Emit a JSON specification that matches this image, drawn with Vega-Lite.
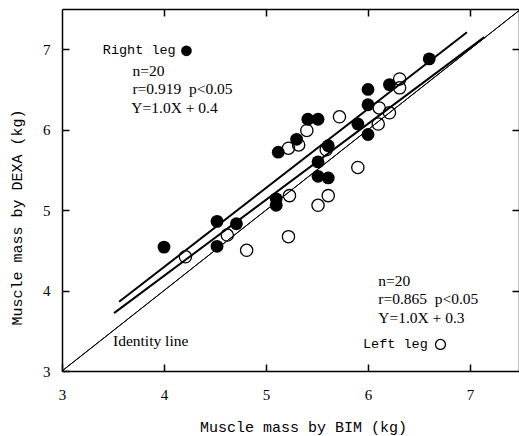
{
  "$schema": "https://vega.github.io/schema/vega-lite/v6.json",
  "autosize": {"type": "none"},
  "width": 457,
  "height": 362,
  "padding": {"left": 62, "top": 9, "right": 0, "bottom": 65},
  "background": "white",
  "config": {
    "view": {"stroke": null},
    "axis": {
      "domainColor": "black",
      "domainWidth": 1.5,
      "tickColor": "black",
      "tickWidth": 1.5,
      "tickSize": -7,
      "grid": false,
      "labelFlush": false,
      "labelOverlap": false,
      "labelFont": "Liberation Serif",
      "labelFontSize": 15,
      "labelColor": "black",
      "titleFont": "Liberation Mono",
      "titleFontSize": 15,
      "titleFontWeight": "normal",
      "titleColor": "black"
    }
  },
  "datasets": {
    "pts": [
      {"leg": "Left", "bim": 4.21, "dexa": 4.42},
      {"leg": "Left", "bim": 4.62, "dexa": 4.69},
      {"leg": "Left", "bim": 4.81, "dexa": 4.50},
      {"leg": "Left", "bim": 5.22, "dexa": 5.77},
      {"leg": "Left", "bim": 5.32, "dexa": 5.81},
      {"leg": "Left", "bim": 5.40, "dexa": 5.99},
      {"leg": "Left", "bim": 5.72, "dexa": 6.16},
      {"leg": "Left", "bim": 5.59, "dexa": 5.75},
      {"leg": "Left", "bim": 5.90, "dexa": 5.53},
      {"leg": "Left", "bim": 5.23, "dexa": 5.18},
      {"leg": "Left", "bim": 5.51, "dexa": 5.06},
      {"leg": "Left", "bim": 5.61, "dexa": 5.18},
      {"leg": "Left", "bim": 5.22, "dexa": 4.67},
      {"leg": "Left", "bim": 6.31, "dexa": 6.63},
      {"leg": "Left", "bim": 6.31, "dexa": 6.52},
      {"leg": "Left", "bim": 6.11, "dexa": 6.27},
      {"leg": "Left", "bim": 6.21, "dexa": 6.21},
      {"leg": "Left", "bim": 6.10, "dexa": 6.07},
      {"leg": "Right", "bim": 4.00, "dexa": 4.54},
      {"leg": "Right", "bim": 4.52, "dexa": 4.86},
      {"leg": "Right", "bim": 4.71, "dexa": 4.83},
      {"leg": "Right", "bim": 4.52, "dexa": 4.55},
      {"leg": "Right", "bim": 5.12, "dexa": 5.72},
      {"leg": "Right", "bim": 5.30, "dexa": 5.88},
      {"leg": "Right", "bim": 5.41, "dexa": 6.13},
      {"leg": "Right", "bim": 5.51, "dexa": 6.13},
      {"leg": "Right", "bim": 5.61, "dexa": 5.80},
      {"leg": "Right", "bim": 5.51, "dexa": 5.60},
      {"leg": "Right", "bim": 5.51, "dexa": 5.42},
      {"leg": "Right", "bim": 5.61, "dexa": 5.40},
      {"leg": "Right", "bim": 5.10, "dexa": 5.14},
      {"leg": "Right", "bim": 5.10, "dexa": 5.06},
      {"leg": "Right", "bim": 6.00, "dexa": 6.50},
      {"leg": "Right", "bim": 6.21, "dexa": 6.56},
      {"leg": "Right", "bim": 6.00, "dexa": 6.31},
      {"leg": "Right", "bim": 5.90, "dexa": 6.07},
      {"leg": "Right", "bim": 6.00, "dexa": 5.94},
      {"leg": "Right", "bim": 6.60, "dexa": 6.88}
    ],
    "lines": [
      {"line": "Identity", "bim": 3.0, "dexa": 3.0},
      {"line": "Identity", "bim": 7.5, "dexa": 7.5},
      {"line": "Right", "bim": 3.56, "dexa": 3.86},
      {"line": "Right", "bim": 6.97, "dexa": 7.21},
      {"line": "Left", "bim": 3.51, "dexa": 3.72},
      {"line": "Left", "bim": 7.14, "dexa": 7.15}
    ],
    "keys": [
      {"leg": "Right", "bim": 4.22, "dexa": 6.98},
      {"leg": "Left", "bim": 6.71, "dexa": 3.33}
    ],
    "notes": [
      {"kind": "key", "txt": "Right leg", "bim": 3.40, "dexa": 6.99},
      {"kind": "key", "txt": "Left leg", "bim": 5.95, "dexa": 3.33},
      {"kind": "stat", "txt": "n=20", "bim": 3.69, "dexa": 6.735},
      {"kind": "stat", "txt": "r=0.919\u00a0 p<0.05", "bim": 3.69, "dexa": 6.50},
      {"kind": "stat", "txt": "Y=1.0X + 0.4", "bim": 3.68, "dexa": 6.27},
      {"kind": "stat", "txt": "n=20", "bim": 6.10, "dexa": 4.12},
      {"kind": "stat", "txt": "r=0.865\u00a0 p<0.05", "bim": 6.10, "dexa": 3.89},
      {"kind": "stat", "txt": "Y=1.0X + 0.3", "bim": 6.10, "dexa": 3.66},
      {"kind": "stat", "txt": "Identity line", "bim": 3.50, "dexa": 3.37}
    ]
  },
  "resolve": {"axis": {"x": "independent", "y": "independent"}},
  "layer": [
    {
      "encoding": {
        "x": {"field": "bim", "type": "quantitative",
              "scale": {"domain": [3, 7.48], "nice": false, "zero": false},
              "axis": {"values": [3, 4, 5, 6, 7], "title": "Muscle mass by BIM (kg)", "labelPadding": 23.5,
                       "titleX": 241, "titleY": 55, "titleBaseline": "middle", "titleAlign": "center"}},
        "y": {"field": "dexa", "type": "quantitative",
              "scale": {"domain": [3, 7.5], "nice": false, "zero": false},
              "axis": {"values": [3, 4, 5, 6, 7], "title": "Muscle mass by DEXA (kg)", "labelPadding": 19,
                       "titleX": -46, "titleY": 208, "titleBaseline": "middle", "titleAlign": "center", "titleAngle": -90}}
      },
      "layer": [
        {
          "data": {"name": "lines"},
          "transform": [{"filter": "datum.line === 'Identity'"}],
          "mark": {"type": "line", "color": "black", "strokeWidth": 1, "clip": true},
          "encoding": {"detail": {"field": "line"}}
        },
        {
          "data": {"name": "lines"},
          "transform": [{"filter": "datum.line !== 'Identity'"}],
          "mark": {"type": "line", "color": "black", "strokeWidth": 2},
          "encoding": {"detail": {"field": "line"}}
        },
        {
          "data": {"name": "pts"},
          "transform": [{"filter": "datum.leg === 'Left'"}],
          "mark": {"type": "point", "shape": "circle", "filled": false, "stroke": "black", "strokeWidth": 1.3, "size": 150, "opacity": 1}
        },
        {
          "data": {"name": "pts"},
          "transform": [{"filter": "datum.leg === 'Right'"}],
          "mark": {"type": "circle", "color": "black", "size": 165, "opacity": 1}
        },
        {
          "data": {"name": "keys"},
          "transform": [{"filter": "datum.leg === 'Right'"}],
          "mark": {"type": "circle", "color": "black", "size": 115, "opacity": 1}
        },
        {
          "data": {"name": "keys"},
          "transform": [{"filter": "datum.leg === 'Left'"}],
          "mark": {"type": "point", "shape": "circle", "filled": false, "stroke": "black", "strokeWidth": 1.3, "size": 100, "opacity": 1}
        },
        {
          "data": {"name": "notes"},
          "transform": [{"filter": "datum.kind === 'key'"}],
          "mark": {"type": "text", "align": "left", "baseline": "middle", "font": "Liberation Mono", "fontSize": 13.5, "color": "black"},
          "encoding": {"text": {"field": "txt"}}
        },
        {
          "data": {"name": "notes"},
          "transform": [{"filter": "datum.kind === 'stat'"}],
          "mark": {"type": "text", "align": "left", "baseline": "middle", "font": "Liberation Serif", "fontSize": 15.5, "color": "black"},
          "encoding": {"text": {"field": "txt"}}
        }
      ]
    },
    {
      "data": {"name": "lines"},
      "transform": [{"filter": "datum.line === 'Identity'"}],
      "mark": {"type": "line", "color": "black", "strokeWidth": 1, "clip": true},
      "encoding": {
        "x": {"field": "bim", "type": "quantitative",
              "scale": {"domain": [3, 7.48], "nice": false, "zero": false},
              "axis": {"orient": "top", "values": [4, 5, 6, 7], "labels": false, "title": null}},
        "y": {"field": "dexa", "type": "quantitative",
              "scale": {"domain": [3, 7.5], "nice": false, "zero": false},
              "axis": {"orient": "right", "values": [4, 5, 6, 7], "labels": false, "title": null}}
      }
    }
  ]
}
